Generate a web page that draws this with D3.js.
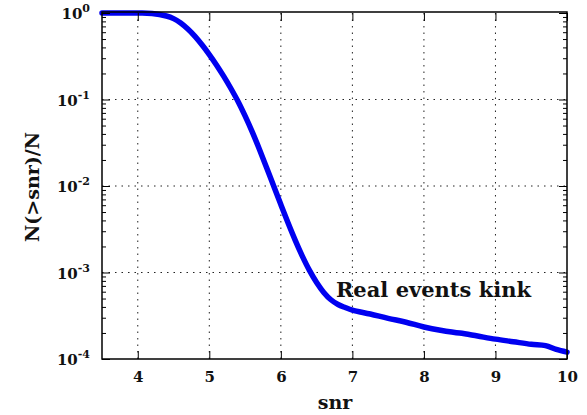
<!DOCTYPE html>
<html lang="en">
<head>
    <meta charset="UTF-8" />
    <title>N(>snr)/N vs snr</title>
    <script src="https://d3js.org/d3.v7.min.js"></script>
    <style>
        body { margin: 0; background: #fff; }
        text { font-family: "DejaVu Serif", serif; font-weight: bold; }
    </style>
</head>
<body>
    <script>
        // curve: snr and log10 of N(>snr)/N
        var snr = [3.5, 4.0, 4.2, 4.4, 4.5, 4.6, 4.7, 4.8, 4.9, 5.0, 5.1, 5.2, 5.3, 5.4, 5.5, 5.6, 5.7, 5.8, 5.9,
                   6.0, 6.1, 6.2, 6.3, 6.4, 6.5, 6.6, 6.7, 6.8, 6.9, 7.0, 7.25, 7.5, 7.75, 8.0, 8.25, 8.5, 8.75,
                   9.0, 9.25, 9.5, 9.7, 9.85, 10.0];
        var logFrac = [0, 0, -0.005, -0.035, -0.065, -0.115, -0.185, -0.27, -0.37, -0.48, -0.6, -0.73, -0.87, -1.02,
                       -1.19, -1.375, -1.575, -1.785, -2.0, -2.215, -2.425, -2.625, -2.81, -2.975, -3.115, -3.23,
                       -3.315, -3.37, -3.405, -3.435, -3.48, -3.53, -3.575, -3.63, -3.67, -3.70, -3.735, -3.77,
                       -3.80, -3.83, -3.845, -3.89, -3.92];
        var xTicks = [4, 5, 6, 7, 8, 9, 10];
        var yExponents = [0, -1, -2, -3, -4];
        var annotation = "Real events kink";

        var w = 587;
        var h = 415;
        var pLeft = 102, pRight = 567, pTop = 13, pBottom = 359;

        var xScale = d3.scaleLinear()
                .domain([3.5, 10])
                .range([pLeft, pRight]);

        var yScale = d3.scaleLog()
                .domain([1e-4, 1])
                .range([pBottom, pTop]);

        var svg = d3.select("body")
            .append("svg")
            .attr("width", w)
            .attr("height", h);

        // dotted grid
        svg.selectAll(".vgrid")
            .data(xTicks.slice(0, -1))
            .enter()
            .append("line")
            .attr("x1", function (d) { return xScale(d); })
            .attr("x2", function (d) { return xScale(d); })
            .attr("y1", pTop)
            .attr("y2", pBottom)
            .attr("stroke", "#222")
            .attr("stroke-dasharray", "1.5,5");

        svg.selectAll(".hgrid")
            .data(yExponents.slice(1, -1))
            .enter()
            .append("line")
            .attr("x1", pLeft)
            .attr("x2", pRight)
            .attr("y1", function (d) { return yScale(Math.pow(10, d)); })
            .attr("y2", function (d) { return yScale(Math.pow(10, d)); })
            .attr("stroke", "#222")
            .attr("stroke-dasharray", "1.5,5");

        // the curve
        var line = d3.line()
            .x(function (d, i) { return xScale(snr[i]); })
            .y(function (d, i) { return yScale(Math.pow(10, logFrac[i])); })
            .curve(d3.curveCatmullRom.alpha(0.5));

        svg.append("path")
            .datum(snr)
            .attr("d", line)
            .attr("fill", "none")
            .attr("stroke", "#0000f0")
            .attr("stroke-width", 5.5)
            .attr("stroke-linecap", "round")
            .attr("stroke-linejoin", "round");

        // axes with ticks pointing inwards
        svg.append("g")
            .attr("transform", "translate(0," + pBottom + ")")
            .call(d3.axisBottom(xScale).tickValues(xTicks).tickSizeInner(-8).tickSizeOuter(0).tickPadding(12).tickFormat(d3.format("d")))
            .call(function (g) {
                g.select(".domain").remove();
                g.selectAll("line").attr("stroke", "#000");
                g.selectAll("text").attr("font-size", "15px").attr("fill", "#111")
                    .attr("font-family", "DejaVu Serif").attr("font-weight", "bold");
            });

        svg.append("g")
            .attr("transform", "translate(0," + pTop + ")")
            .call(d3.axisTop(xScale).tickValues(xTicks).tickSizeInner(-8).tickSizeOuter(0).tickFormat(""))
            .call(function (g) { g.select(".domain").remove(); });

        var minor = [];
        yExponents.slice(1).forEach(function (e) {
            for (var k = 2; k <= 9; k++) minor.push(k * Math.pow(10, e));
        });
        var majors = yExponents.map(function (e) { return Math.pow(10, e); });

        [[pLeft, d3.axisLeft], [pRight, d3.axisRight]].forEach(function (side) {
            svg.append("g")
                .attr("transform", "translate(" + side[0] + ",0)")
                .call(side[1](yScale).tickValues(minor).tickSizeInner(-4).tickSizeOuter(0).tickFormat(""))
                .call(function (g) { g.select(".domain").remove(); });
            svg.append("g")
                .attr("transform", "translate(" + side[0] + ",0)")
                .call(side[1](yScale).tickValues(majors).tickSizeInner(-8).tickSizeOuter(0).tickFormat(""))
                .call(function (g) { g.select(".domain").remove(); });
        });

        // y tick labels as 10 with superscript exponent
        var ylab = svg.selectAll(".ylab")
            .data(yExponents)
            .enter()
            .append("text")
            .attr("x", pLeft - 12)
            .attr("y", function (d) { return yScale(Math.pow(10, d)) + 6; })
            .attr("text-anchor", "end")
            .attr("fill", "#111")
            .attr("font-size", "15px");
        ylab.append("tspan").text("10");
        ylab.append("tspan")
            .attr("dy", -7)
            .attr("font-size", "11px")
            .text(function (d) { return d === 0 ? "0" : "-" + (-d); });

        // frame
        svg.append("rect")
            .attr("x", pLeft)
            .attr("y", pTop - 1)
            .attr("width", pRight - pLeft)
            .attr("height", pBottom - pTop + 1)
            .attr("fill", "none")
            .attr("stroke", "#000")
            .attr("stroke-width", 1.5);

        svg.append("text")
            .attr("x", xScale(6.77))
            .attr("y", yScale(Math.pow(10, -3.28)))
            .attr("font-size", "21px")
            .attr("fill", "#111")
            .text(annotation);

        svg.append("text")
            .attr("x", 335)
            .attr("y", 409)
            .attr("text-anchor", "middle")
            .attr("font-size", "19px")
            .attr("fill", "#111")
            .text("snr");

        svg.append("text")
            .attr("transform", "translate(39,187) rotate(-90)")
            .attr("text-anchor", "middle")
            .attr("font-size", "19px")
            .attr("fill", "#111")
            .text("N(>snr)/N");
    </script>
</body>
</html>
